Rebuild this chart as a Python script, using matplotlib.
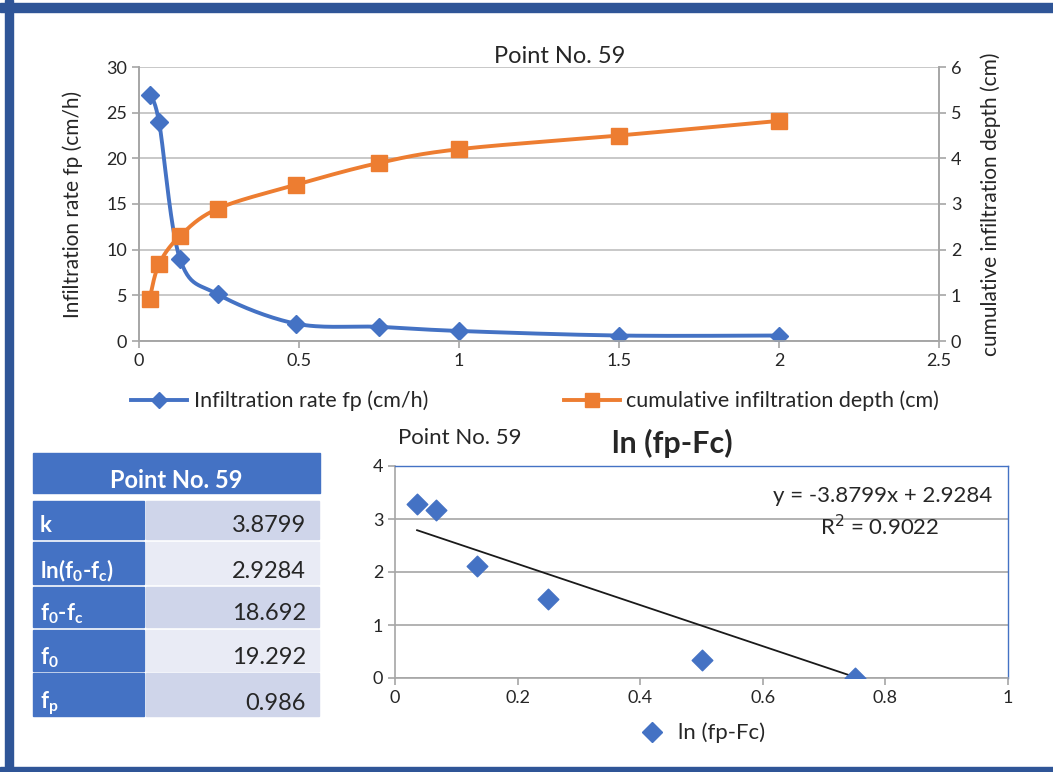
import numpy as np
import matplotlib
matplotlib.use("Agg")
import matplotlib.pyplot as plt
from matplotlib.patches import Rectangle
from matplotlib.lines import Line2D

plt.rcParams['font.family'] = ['Lato', 'DejaVu Sans']

## data ##
time_h = [0.033, 0.0625, 0.128, 0.247, 0.49, 0.75, 1.0, 1.5, 2.0]
rate_fp = [26.9, 24.0, 9.0, 5.1, 1.9, 1.55, 1.1, 0.6, 0.6]
cum_depth = [0.92, 1.68, 2.3, 2.9, 3.42, 3.9, 4.2, 4.5, 4.82]

ln_x = [0.036, 0.067, 0.134, 0.25, 0.50, 0.75]
ln_y = [3.28, 3.17, 2.11, 1.50, 0.34, 0.0]
slope, intercept, r2 = -3.8799, 2.9284, 0.9022

table_labels = ['k', r'ln(f$\mathregular{_0}$-f$\mathregular{_c}$)', r'f$\mathregular{_0}$-f$\mathregular{_c}$',
                r'f$\mathregular{_0}$', r'f$\mathregular{_p}$']
table_values = ['3.8799', '2.9284', '18.692', '19.292', '0.986']

blue = '#4472C4'
orange = '#ED7D31'
grid_c = '#BFBFBF'
txt_c = '#262626'

W, H = 1053, 772


def px_axes(fig, l, t, r, b):
    return fig.add_axes([l / W, 1 - b / H, (r - l) / W, (b - t) / H])


def smooth(x, y, n=30):
    # excel-like smoothed line (catmull-rom through the points)
    x = np.asarray(x, float)
    y = np.asarray(y, float)
    px = np.concatenate([[x[0]], x, [x[-1]]])
    py = np.concatenate([[y[0]], y, [y[-1]]])
    xs, ys = [], []
    for i in range(1, len(px) - 2):
        p0, p1, p2, p3 = (np.array([px[j], py[j]]) for j in (i - 1, i, i + 1, i + 2))
        c1 = p1 + (p2 - p0) / 6
        c2 = p2 - (p3 - p1) / 6
        t = np.linspace(0, 1, n)[:, None]
        pts = (1 - t) ** 3 * p1 + 3 * (1 - t) ** 2 * t * c1 + 3 * (1 - t) * t ** 2 * c2 + t ** 3 * p2
        xs.extend(pts[:, 0])
        ys.extend(pts[:, 1])
    return xs, ys


fig = plt.figure(figsize=(W / 100, H / 100), dpi=100)

## border ##
fig.patches.append(Rectangle((0, 1 - 12 / H), 1, 9 / H, transform=fig.transFigure, color='#2F5597'))
fig.patches.append(Rectangle((5 / W, 0), 8 / W, 1, transform=fig.transFigure, color='#2F5597'))
fig.patches.append(Rectangle((0, 0), 1, 5 / H, transform=fig.transFigure, color='#2F5597'))

## top chart ##
ax = px_axes(fig, 139, 67, 939, 341)
ax2 = ax.twinx()
sx, sy = smooth(time_h, rate_fp)
ax.plot(sx, sy, color=blue, lw=2.8, zorder=3)
ax.plot(time_h, rate_fp, ls='none', marker='D', ms=9, color=blue, zorder=4)
sx, sy = smooth(time_h, cum_depth)
ax2.plot(sx, sy, color=orange, lw=2.8, zorder=3)
ax2.plot(time_h, cum_depth, ls='none', marker='s', ms=11, color=orange, zorder=4)

ax.set_xlim(0, 2.5)
ax.set_ylim(0, 30)
ax2.set_ylim(0, 6)
ax.set_xticks(np.arange(0, 2.51, 0.5))
ax.set_xticklabels(['0', '0.5', '1', '1.5', '2', '2.5'])
ax.set_yticks(range(0, 31, 5))
ax2.set_yticks(range(0, 7))
ax.yaxis.grid(True, color=grid_c, lw=1.2)
ax.set_axisbelow(True)
for a in (ax, ax2):
    a.spines['top'].set_visible(False)
    for s in ('left', 'right', 'bottom'):
        a.spines[s].set_color('#A6A6A6')
        a.spines[s].set_linewidth(1.2)
    a.tick_params(colors='#A6A6A6', labelcolor=txt_c, labelsize=13, length=5, width=1.2)
ax.set_ylabel('Infiltration rate fp (cm/h)', fontsize=15, color=txt_c)
ax2.set_ylabel('cumulative infiltration depth (cm)', fontsize=15, color=txt_c)
ax.yaxis.set_label_coords(-0.07, 0.5)
ax2.yaxis.set_label_coords(1.052, 0.5)
ax.set_title('Point No. 59', fontsize=17, color=txt_c, pad=3, x=(560 - 139) / 800)

handles = [Line2D([], [], color=blue, lw=2.8, marker='D', ms=8),
           Line2D([], [], color=orange, lw=2.8, marker='s', ms=10)]
fig.legend(handles, ['Infiltration rate fp (cm/h)', 'cumulative infiltration depth (cm)'],
           loc='center', bbox_to_anchor=(535 / W, 1 - 401 / H), ncol=2, frameon=False,
           fontsize=15.5, handlelength=2.6, handletextpad=0.3, columnspacing=6.3,
           labelcolor=txt_c)

## bottom chart ##
bx = px_axes(fig, 395, 466, 1008, 678)
bx.scatter(ln_x, ln_y, marker='D', s=110, color=blue, zorder=4)
lx = np.array([min(ln_x), max(ln_x)])
bx.plot(lx, slope * lx + intercept, color='#1a1a1a', lw=1.3, zorder=3)
bx.set_xlim(0, 1)
bx.set_ylim(0, 4)
bx.set_xticks(np.arange(0, 1.01, 0.2))
bx.set_xticklabels(['0', '0.2', '0.4', '0.6', '0.8', '1'])
bx.set_yticks(range(0, 5))
bx.yaxis.grid(True, color='#A6A6A6', lw=1.2)
bx.set_axisbelow(True)
for s in ('left', 'bottom'):
    bx.spines[s].set_color('#A6A6A6')
    bx.spines[s].set_linewidth(1.2)
for s in ('top', 'right'):
    bx.spines[s].set_color(blue)
    bx.spines[s].set_linewidth(1)
bx.tick_params(colors='#A6A6A6', labelcolor=txt_c, labelsize=13, length=5, width=1.2)
bx.text(0.975, 3.43, 'y = %.4fx + %.4f' % (slope, intercept), ha='right', va='center',
        fontsize=16, color=txt_c)
bx.text(0.79, 2.86, 'R$^2$ = %.4f' % r2, ha='center', va='center', fontsize=16, color=txt_c)
fig.text(460 / W, 1 - 438 / H, 'Point No. 59', ha='center', va='center', fontsize=16, color=txt_c)
fig.text(672 / W, 1 - 443 / H, 'ln (fp-Fc)', ha='center', va='center', fontsize=22,
         fontweight='bold', color=txt_c)
fig.legend([Line2D([], [], ls='none', marker='D', ms=10, color=blue)], ['ln (fp-Fc)'],
           loc='center', bbox_to_anchor=(702 / W, 1 - 733 / H), frameon=False, fontsize=16,
           labelcolor=txt_c, handlelength=1.2, handletextpad=0.6)

## table ##
tx = fig.add_axes([0, 0, 1, 1])
tx.set_xlim(0, W)
tx.set_ylim(H, 0)
tx.axis('off')
tx.add_patch(Rectangle((33, 453), 287, 40, color=blue))
tx.text(176, 481, 'Point No. 59', ha='center', va='center', color='white', fontsize=17,
        fontweight='bold')
row_top = [501, 542, 587, 630, 673]
row_bot = [539, 584, 627, 671, 716]
for i, (lab, val) in enumerate(zip(table_labels, table_values)):
    t0, t1 = row_top[i], row_bot[i]
    tx.add_patch(Rectangle((33, t0), 111, t1 - t0, color=blue))
    tx.add_patch(Rectangle((146, t0), 173, t1 - t0, color='#CFD5EA' if i % 2 == 0 else '#E9EBF5'))
    tx.text(40, t1 - 13, lab, ha='left', va='center', color='white', fontsize=16, fontweight='bold')
    tx.text(306, t1 - 13, val, ha='right', va='center', color=txt_c, fontsize=17)

fig.savefig('out.png', dpi=100)
